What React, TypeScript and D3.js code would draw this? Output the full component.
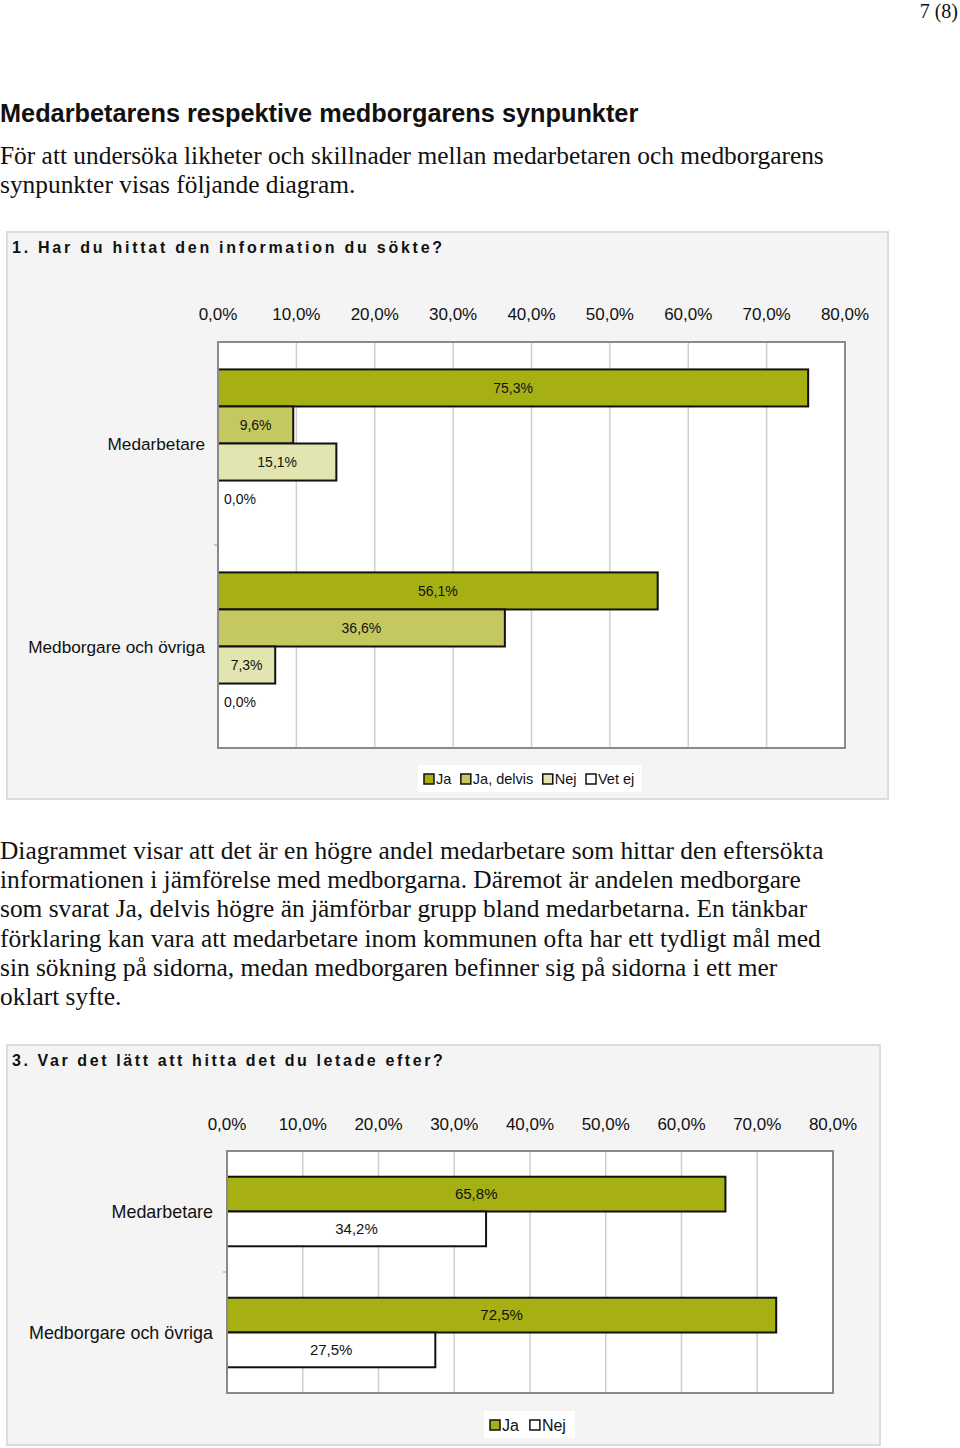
import React from 'react'
import * as d3 from 'd3'

const categories = ['Medarbetare', 'Medborgare och övriga']
const ticks = [0, 10, 20, 30, 40, 50, 60, 70, 80]

const q1Series = ['Ja', 'Ja, delvis', 'Nej', 'Vet ej']
const q1Colors = ['#a7b012', '#c4c85e', '#e2e5b0', '#ffffff']
const q1Medarbetare = [75.3, 9.6, 15.1, 0.0]
const q1Medborgare = [56.1, 36.6, 7.3, 0.0]

const q2Series = ['Ja', 'Nej']
const q2Colors = ['#a7b012', '#ffffff']
const q2Medarbetare = [65.8, 34.2]
const q2Medborgare = [72.5, 27.5]

const bodyIntro = [
  'För att undersöka likheter och skillnader mellan medarbetaren och medborgarens',
  'synpunkter visas följande diagram.'
]
const bodyMiddle = [
  'Diagrammet visar att det är en högre andel medarbetare som hittar den eftersökta',
  'informationen i jämförelse med medborgarna. Däremot är andelen medborgare',
  'som svarat Ja, delvis högre än jämförbar grupp bland medarbetarna. En tänkbar',
  'förklaring kan vara att medarbetare inom kommunen ofta har ett tydligt mål med',
  'sin sökning på sidorna, medan medborgaren befinner sig på sidorna i ett mer',
  'oklart syfte.'
]

const sans = 'Liberation Sans, Arial, sans-serif'
const serif = 'Liberation Serif, Times New Roman, serif'

const locale = d3.formatLocale({ decimal: ',', thousands: ' ', grouping: [3], currency: ['', ' kr'] })
const pct = (v: number) => locale.format('.1f')(v) + '%'

let ctx: CanvasRenderingContext2D | null = null
const textWidth = (s: string, font: string) => {
  if (!ctx) ctx = document.createElement('canvas').getContext('2d')
  if (!ctx) return s.length * 7
  ctx.font = font
  return ctx.measureText(s).width
}

type ChartProps = {
  box: { x: number; y: number; w: number; h: number }
  title: string
  titleSpacing: number
  plot: { x0: number; x1: number; y0: number; y1: number }
  tickY: number
  series: string[]
  colors: string[]
  values: number[][]
  catFont: number
  catX: number
  valFont: number
  legendFont: number
  legendGap: number
  legendY: number
  legendX: number
}

const BarChart = (p: ChartProps) => {
  const x = d3.scaleLinear().domain([0, 80]).range([p.plot.x0, p.plot.x1])
  const yCat = d3.scaleBand<string>().domain(categories).range([p.plot.y0, p.plot.y1])
  const ySer = d3
    .scaleBand<string>()
    .domain(p.series)
    .range([0, yCat.bandwidth()])
    .paddingInner(0)
    .paddingOuter(0.74)

  const legendFont = `${p.legendFont}px ${sans}`
  let lx = p.legendX + 4
  const legendItems = p.series.map((s, i) => {
    const item = { s, i, x: lx }
    lx += 14 + textWidth(s, legendFont) + p.legendGap
    return item
  })
  const legendW = lx - p.legendX

  return (
    <g>
      <rect x={p.box.x} y={p.box.y} width={p.box.w} height={p.box.h} fill="#f4f4f4" stroke="#dcdcdc" strokeWidth={2} />
      <text x={p.box.x + 5} y={p.box.y + 21} fontFamily={sans} fontSize={16} fontWeight="bold" letterSpacing={p.titleSpacing} fill="#111">
        {p.title}
      </text>
      {ticks.map(t => (
        <text key={t} x={x(t)} y={p.tickY} textAnchor="middle" fontFamily={sans} fontSize={17} fill="#111">
          {pct(t)}
        </text>
      ))}
      <rect x={p.plot.x0} y={p.plot.y0} width={p.plot.x1 - p.plot.x0} height={p.plot.y1 - p.plot.y0} fill="#fff" />
      {ticks.slice(1, -1).map(t => (
        <line key={t} x1={x(t)} x2={x(t)} y1={p.plot.y0} y2={p.plot.y1} stroke="#cfcfcf" strokeWidth={1.5} />
      ))}
      <line x1={p.plot.x0 - 4} x2={p.plot.x0} y1={yCat(categories[1])} y2={yCat(categories[1])} stroke="#999" />
      {categories.map((c, ci) => {
        const y0 = yCat(c) as number
        return (
          <g key={c}>
            <text x={p.catX} y={y0 + yCat.bandwidth() / 2} dy="0.35em" textAnchor="end" fontFamily={sans} fontSize={p.catFont} fill="#111">
              {c}
            </text>
            {p.series.map((s, si) => {
              const v = p.values[ci][si]
              const by = y0 + (ySer(s) as number)
              const bh = ySer.bandwidth()
              return (
                <g key={s}>
                  {v > 0 && (
                    <rect x={x(0)} y={by} width={x(v) - x(0)} height={bh} fill={p.colors[si]} stroke="#111" strokeWidth={2} />
                  )}
                  <text
                    x={v > 0 ? (x(0) + x(v)) / 2 : x(0) + 6}
                    y={by + bh / 2}
                    dy="0.35em"
                    textAnchor={v > 0 ? 'middle' : 'start'}
                    fontFamily={sans}
                    fontSize={p.valFont}
                    fill="#111"
                  >
                    {pct(v)}
                  </text>
                </g>
              )
            })}
          </g>
        )
      })}
      <rect x={p.plot.x0} y={p.plot.y0} width={p.plot.x1 - p.plot.x0} height={p.plot.y1 - p.plot.y0} fill="none" stroke="#8a8a8a" strokeWidth={2} />
      <rect x={p.legendX} y={p.legendY} width={legendW} height={27} fill="#fff" />
      {legendItems.map(it => (
        <g key={it.s}>
          <rect x={it.x + 2} y={p.legendY + 9} width={10} height={10} fill={p.colors[it.i]} stroke="#111" strokeWidth={1.5} />
          <text x={it.x + 14} y={p.legendY + 14} dy="0.35em" fontFamily={sans} fontSize={p.legendFont} fill="#111">
            {it.s}
          </text>
        </g>
      ))}
    </g>
  )
}

export default function App() {
  return (
    <svg width={960} height={1448} style={{ position: 'absolute', left: 0, top: 0, background: '#fff' }}>
      <text x={958} y={18} textAnchor="end" fontFamily={serif} fontSize={20} fill="#111">
        7 (8)
      </text>
      <text x={0} y={122} fontFamily={sans} fontSize={25.3} fontWeight="bold" fill="#111">
        Medarbetarens respektive medborgarens synpunkter
      </text>
      {bodyIntro.map((l, i) => (
        <text key={i} x={0} y={164 + i * 29} fontFamily={serif} fontSize={25.4} fill="#111">
          {l}
        </text>
      ))}
      <BarChart
        box={{ x: 7, y: 232, w: 881, h: 567 }}
        title="1. Har du hittat den information du sökte?"
        titleSpacing={2.75}
        plot={{ x0: 218, x1: 845, y0: 342, y1: 748 }}
        tickY={320}
        series={q1Series}
        colors={q1Colors}
        values={[q1Medarbetare, q1Medborgare]}
        catFont={17.2}
        catX={205}
        valFont={14}
        legendFont={14.5}
        legendGap={7.5}
        legendY={765}
        legendX={418}
      />
      {bodyMiddle.map((l, i) => (
        <text key={i} x={0} y={859 + i * 29.2} fontFamily={serif} fontSize={25.4} fill="#111">
          {l}
        </text>
      ))}
      <BarChart
        box={{ x: 7, y: 1045, w: 873, h: 400 }}
        title="3. Var det lätt att hitta det du letade efter?"
        titleSpacing={2.6}
        plot={{ x0: 227, x1: 833, y0: 1151, y1: 1393 }}
        tickY={1130}
        series={q2Series}
        colors={q2Colors}
        values={[q2Medarbetare, q2Medborgare]}
        catFont={17.9}
        catX={213}
        valFont={15}
        legendFont={16}
        legendGap={9}
        legendY={1411}
        legendX={484}
      />
    </svg>
  )
}
